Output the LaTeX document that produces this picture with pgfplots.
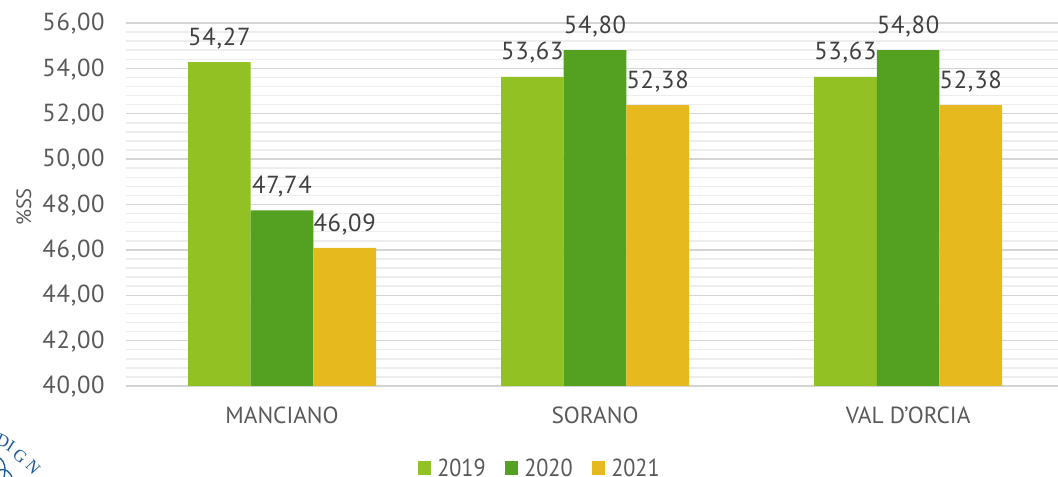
\documentclass[border=0pt]{standalone}
\usepackage{pgfplots}
\pgfplotsset{compat=1.18}
\usepackage{fontspec}
\setmainfont{PT Sans}
\newfontfamily\legfont[FakeStretch=0.9]{PT Sans}
\newfontfamily\logofont{Liberation Serif}
\definecolor{ca}{HTML}{92C123}
\definecolor{cb}{HTML}{54A021}
\definecolor{cc}{HTML}{E6B91E}
\definecolor{txt}{HTML}{595959}
\definecolor{logo}{HTML}{1E5A96}
\newcommand\numfont{\fontsize{18.5}{20}\selectfont\addfontfeature{LetterSpace=3}}
\newcommand\lfont{\legfont\fontsize{18.5}{20}\selectfont}
\begin{document}
\begin{tikzpicture}[x=0.75pt,y=-0.75pt]
\path[use as bounding box] (0,0) rectangle (1058,477);
\begin{scope}
\clip (0,0) rectangle (1058,477);
\begin{axis}[
  at={(94.125pt,-289.5pt)}, anchor=south west,
  scale only axis, width=699.4pt, height=272.25pt,
  xmin=-0.5, xmax=2.479, ymin=40, ymax=56,
  xtick={0,1,2}, xticklabels={MANCIANO,SORANO,VAL D'ORCIA},
  ytick={40,42,...,56}, minor y tick num=4,
  axis line style={draw=none},
  tick style={draw=none},
  ymajorgrids, yminorgrids,
  major grid style={draw=black!17, line width=1.1pt},
  minor grid style={draw=black!7, line width=1.1pt},
  ybar=0pt, bar width=47pt,
  xticklabel style={font=\fontsize{17.5}{20}\selectfont, text=txt, yshift=-8pt},
  yticklabel style={font=\numfont, text=txt, anchor=east, inner sep=0pt, xshift=-15.4pt, yshift=-0.6pt,
    /pgf/number format/.cd, fixed, fixed zerofill, precision=2, use comma, assume math mode=true},
  nodes near coords,
  nodes near coords style={font=\numfont, text=black!75, yshift=6.3pt,
    /pgf/number format/.cd, fixed, fixed zerofill, precision=2, use comma, assume math mode=true},
  clip=false,
]
\addplot[fill=ca, draw=none] coordinates {(0,54.27) (1,53.63) (2,53.63)};
\addplot[fill=cb, draw=none] coordinates {(0,47.74) (1,54.80) (2,54.80)};
\addplot[fill=cc, draw=none] coordinates {(0,46.09) (1,52.38) (2,52.38)};
\end{axis}
\node[rotate=90, text=txt, font=\fontsize{15.5}{18}\selectfont] at (24,207) {\%SS};
\fill[ca] (418,461) rectangle (431,475);
\node[anchor=west,inner sep=0pt,text=txt,font=\lfont] at (437,467.5) {2019};
\fill[cb] (505,461) rectangle (518,475);
\node[anchor=west,inner sep=0pt,text=txt,font=\lfont] at (524,467.5) {2020};
\fill[cc] (592,461) rectangle (605,475);
\node[anchor=west,inner sep=0pt,text=txt,font=\lfont] at (611,467.5) {2021};
\begin{scope}[every node/.style={text=logo,font=\logofont\fontsize{13}{14}\selectfont,inner sep=0pt}]
\node[rotate=-25] at (3,441) {D};
\node[rotate=-33] at (11,446) {I};
\node[rotate=-40] at (20,456) {G};
\node[rotate=-47] at (33,467) {N};
\end{scope}
\draw[logo,line width=1pt] (0,458) .. controls (5,462) and (6,468) .. (4,477);
\draw[logo,line width=1pt] (0,470) .. controls (5,468) and (10,472) .. (12,477);
\end{scope}
\end{tikzpicture}
\end{document}
